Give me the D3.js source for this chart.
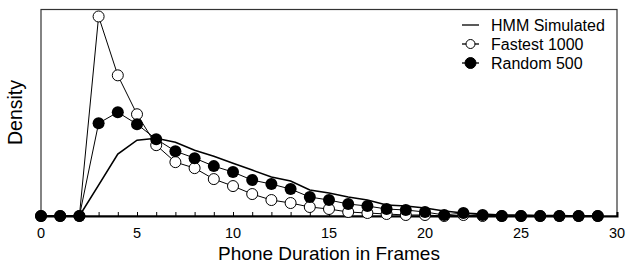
<!DOCTYPE html>
<html>
<head>
<meta charset="utf-8">
<script src="https://cdn.jsdelivr.net/npm/d3@7"></script>
<style>
body{margin:0;background:#fff;}
text{font-family:"Liberation Sans",Arial,sans-serif;}
</style>
</head>
<body>
<svg id="chart" width="626" height="262"></svg>
<script>
// frames 0..29
var frames = d3.range(0, 30);
var hmmSimulated = [0,0,0,31,62,76,78,74,66,60,53,46,39,35,26,23,19,16,11,10,8,5,3,2,1,1,0.5,0.5,0,0];
var fastest1000 = [0,0,0,200,141,102,71,54,48,37,30,22,16,13,9,7,4,3,2,1,1,0,1,0,0,0,0,0,0,0];
var random500 = [0,0,0,93,104,92,77,65,58,50,44,36,32,27,19,16,12,10,7,6,4,1,3,1,0,0,0,0,0,0];
var xTicks = [0,5,10,15,20,25,30];

var svg = d3.select('#chart');
var margin = {left:41, right:9, top:9.5, bottom:46};
var width = 626, height = 262;

var x = d3.scaleLinear().domain([0,30]).range([margin.left, width-margin.right]);
var y = d3.scaleLinear().domain([0,207]).range([height-margin.bottom, margin.top]);

// frame (top/left/right)
svg.append('rect')
    .attr('x', x(0)).attr('y', y(207))
    .attr('width', x(30)-x(0)).attr('height', y(0)-y(207))
    .attr('fill','none').attr('stroke','#333').attr('stroke-width',1.2);

// bottom axis with inward ticks
svg.append('g')
    .attr('transform', 'translate(0,' + y(0) + ')')
    .call(d3.axisTop(x).ticks(30).tickSize(4).tickFormat(''))
    .call(g=>g.select('.domain').attr('stroke','#000').attr('stroke-width',2))
    .call(g=>g.selectAll('.tick line').attr('stroke','#000'));

svg.selectAll('.xlab')
    .data(xTicks)
    .enter()
    .append('text')
    .attr('x', d=>x(d))
    .attr('y', 237.5)
    .attr('text-anchor','middle')
    .attr('font-size', 14.5)
    .text(d=>d);

svg.append('text')
    .attr('x', (x(0)+x(30))/2)
    .attr('y', 259.5)
    .attr('text-anchor','middle')
    .attr('font-size', 19)
    .text('Phone Duration in Frames');

svg.append('text')
    .attr('transform','translate(22,' + 112.5 + ') rotate(-90)')
    .attr('text-anchor','middle')
    .attr('font-size', 19.5)
    .text('Density');

var line = d3.line()
    .x((d,i)=>x(frames[i]))
    .y(d=>y(d));

svg.append('path')
    .attr('d', line(hmmSimulated))
    .attr('fill','none').attr('stroke','#000').attr('stroke-width',1.6);

svg.append('path')
    .attr('d', line(fastest1000))
    .attr('fill','none').attr('stroke','#000').attr('stroke-width',1);

svg.append('path')
    .attr('d', line(random500))
    .attr('fill','none').attr('stroke','#000').attr('stroke-width',1);

svg.selectAll('.fast')
    .data(fastest1000)
    .enter()
    .append('circle')
    .attr('cx',(d,i)=>x(frames[i]))
    .attr('cy',d=>y(d))
    .attr('r',5.5)
    .attr('fill','#fff').attr('stroke','#000').attr('stroke-width',1);

svg.selectAll('.rand')
    .data(random500)
    .enter()
    .append('circle')
    .attr('cx',(d,i)=>x(frames[i]))
    .attr('cy',d=>y(d))
    .attr('r',6)
    .attr('fill','#000');

// legend
var legend = [
    {name:'HMM Simulated', marker:null},
    {name:'Fastest 1000', marker:'open'},
    {name:'Random 500', marker:'filled'}
];
var lg = svg.append('g').attr('transform','translate(461,25)');
legend.forEach(function(d,i){
    var g = lg.append('g').attr('transform','translate(0,' + (i*19) + ')');
    g.append('line').attr('x1',1).attr('x2',18).attr('y1',0).attr('y2',0)
        .attr('stroke','#000').attr('stroke-width',1.3);
    if(d.marker){
        g.append('circle').attr('cx',9.5).attr('cy',0)
            .attr('r', d.marker=='open'?4.5:5.5)
            .attr('fill', d.marker=='open'?'#fff':'#000')
            .attr('stroke','#000');
    }
    g.append('text').attr('x',30).attr('y',6).attr('font-size',16).text(d.name);
});
</script>
</body>
</html>
